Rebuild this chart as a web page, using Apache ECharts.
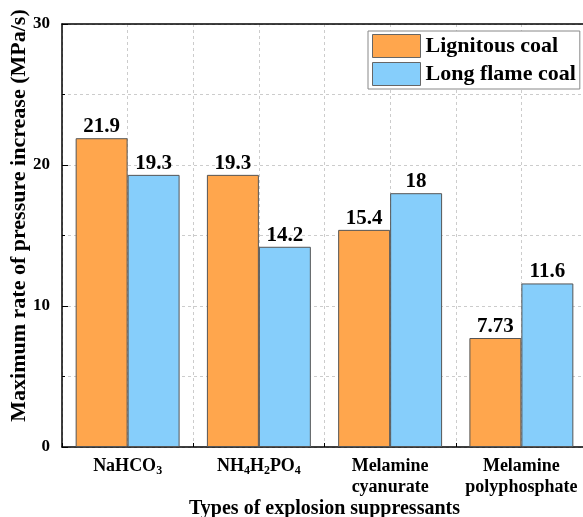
<!DOCTYPE html>
<html>
<head>
<meta charset="utf-8">
<script src="https://cdn.jsdelivr.net/npm/echarts@6/dist/echarts.min.js"></script>
<style>
  html, body { margin: 0; padding: 0; background: #fff; }
  #chart { width: 583px; height: 517px; }
</style>
</head>
<body>
<div id="chart"></div>
<script>
const categories = ['NaHCO3', 'NH4H2PO4', 'Melamine cyanurate', 'Melamine polyphosphate'];
const seriesNames = ['Lignitous coal', 'Long flame coal'];
const lignitous = [21.9, 19.3, 15.4, 7.73];
const longFlame = [19.3, 14.2, 18, 11.6];
const yTicks = [0, 10, 20, 30];

const FONT = '"Liberation Serif", "Times New Roman", serif';

function fmtCat(v) {
  if (v.indexOf(' ') >= 0) return v.replace(' ', '\n');
  return v.replace(/(\d)/g, '{s|$1}');
}

const chart = echarts.init(document.getElementById('chart'), null, { renderer: 'canvas' });
chart.setOption({
  animation: false,
  backgroundColor: '#fff',
  textStyle: { fontFamily: FONT },
  grid: { left: 62, right: -4, top: 24, bottom: 70, containLabel: false, outerBoundsMode: 'none' },
  legend: {
    data: seriesNames,
    orient: 'vertical',
    left: 368,
    top: 31,
    padding: [3, 4, 3, 4],
    itemGap: 4,
    itemWidth: 48,
    itemHeight: 23,
    icon: 'rect',
    backgroundColor: '#fff',
    borderColor: '#888',
    borderWidth: 1,
    borderRadius: 0,
    textStyle: { fontFamily: FONT, fontWeight: 'bold', fontSize: 22, color: '#000' },
    itemStyle: { borderColor: '#666', borderWidth: 1 }
  },
  xAxis: [
    {
      type: 'category',
      data: categories,
      position: 'bottom',
      name: 'Types of explosion suppressants',
      nameLocation: 'middle',
      nameGap: 52,
      nameMoveOverlap: false,
      nameTextStyle: { fontFamily: FONT, fontWeight: 'bold', fontSize: 20, color: '#000' },
      axisLine: { show: true, lineStyle: { color: '#000', width: 1.5 } },
      axisTick: { show: true, inside: true, length: 4, lineStyle: { color: '#000' } },
      axisLabel: {
        interval: 0,
        hideOverlap: false,
        formatter: fmtCat,
        fontFamily: FONT, fontWeight: 'bold', fontSize: 18, color: '#000',
        lineHeight: 21, margin: 9,
        rich: { s: { fontFamily: FONT, fontWeight: 'bold', fontSize: 12, color: '#000', verticalAlign: 'bottom', lineHeight: 12 } }
      },
      splitLine: { show: false }
    },
    {
      type: 'value',
      position: 'top',
      min: 0, max: 8, interval: 1,
      axisLine: { show: true, lineStyle: { color: '#000', width: 1.5 } },
      axisTick: { show: false },
      axisLabel: { show: false },
      splitLine: { show: true, lineStyle: { color: '#ccc', type: [3, 3], width: 1 } }
    }
  ],
  yAxis: {
    type: 'value',
    min: yTicks[0], max: yTicks[yTicks.length - 1], interval: 10,
    name: 'Maximum rate of pressure increase (MPa/s)',
    nameLocation: 'middle',
    nameGap: 32,
    nameMoveOverlap: false,
    nameRotate: 90,
    nameTextStyle: { fontFamily: FONT, fontWeight: 'bold', fontSize: 22, color: '#000', padding: [0, 0, 0, 40] },
    axisLine: { show: true, lineStyle: { color: '#000', width: 1.5 } },
    axisTick: { show: true, inside: true, length: 6, lineStyle: { color: '#000' } },
    minorTick: { show: true, splitNumber: 2, length: 3, lineStyle: { color: '#000' } },
    axisLabel: { fontFamily: FONT, fontWeight: 'bold', fontSize: 17, color: '#000', margin: 12 },
    splitLine: { show: true, lineStyle: { color: '#ccc', type: [3, 3], width: 1 } },
    minorSplitLine: { show: true, lineStyle: { color: '#ccc', type: [3, 3], width: 1 } }
  },
  series: [
    {
      name: seriesNames[0],
      type: 'bar',
      data: lignitous,
      barGap: '0%',
      barCategoryGap: '20.8%',
      itemStyle: { color: '#FFA64D', borderColor: '#555', borderWidth: 1 },
      label: { show: true, position: 'top', distance: 1, fontFamily: FONT, fontWeight: 'bold', fontSize: 21, color: '#000' }
    },
    {
      name: seriesNames[1],
      type: 'bar',
      data: longFlame,
      barGap: '0%',
      barCategoryGap: '20.8%',
      itemStyle: { color: '#86CEFB', borderColor: '#555', borderWidth: 1 },
      label: { show: true, position: 'top', distance: 1, fontFamily: FONT, fontWeight: 'bold', fontSize: 21, color: '#000' }
    }
  ]
});
</script>
</body>
</html>
